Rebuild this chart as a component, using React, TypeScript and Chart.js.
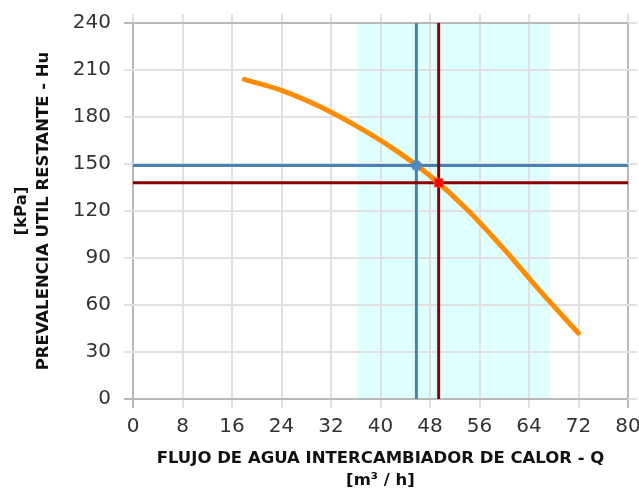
import React, { useEffect, useRef } from "react";
import { Chart, registerables } from "chart.js";

Chart.register(...registerables);

// ---- axis ranges / ticks ----
const X_MIN = 0;
const X_MAX = 80;
const X_STEP = 8;
const Y_MIN = 0;
const Y_MAX = 240;
const Y_STEP = 30;

// ---- pump curve (Q [m3/h], Hu [kPa]) ----
const CURVE_Q = [18, 24, 30, 36, 42, 48, 54, 60, 66, 72];
const CURVE_H = [204, 197, 187, 174.5, 160, 142.5, 121, 95.5, 68, 42];

// ---- operating points ----
const BLUE_Q = 45.8;
const BLUE_H = 149;
const RED_Q = 49.4;
const RED_H = 138;

// ---- recommended flow range ----
const RANGE_Q = [36.3, 67.4];

// ---- titles ----
const X_TITLE = ["FLUJO DE AGUA INTERCAMBIADOR DE CALOR - Q", "[m³ / h]"];
const Y_TITLE = ["[kPa]", "PREVALENCIA UTIL RESTANTE - Hu"];

const FONT = "'DejaVu Sans', Verdana, sans-serif";
const GRID_LIGHT = "#e1e1e1";
const GRID_DARK = "#b9b9b9";

const bandPlugin = {
  id: "flowBand",
  beforeDraw(chart: any) {
    const { ctx, chartArea, scales } = chart;
    const x = scales.x;
    const l = x.getPixelForValue(RANGE_Q[0]);
    const r = x.getPixelForValue(RANGE_Q[1]);
    ctx.save();
    ctx.fillStyle = "#e0ffff";
    ctx.fillRect(l, chartArea.top, r - l, chartArea.bottom - chartArea.top);
    ctx.restore();
  },
};

const edgeColor = (edges: number[]) => (c: any) =>
  c.tick && edges.includes(c.tick.value) ? GRID_DARK : GRID_LIGHT;

const noPadH = (size: number) => (s: any) => {
  s.height = size;
  s.paddingLeft = 0;
  s.paddingRight = 0;
};
const noPadV = (size: number) => (s: any) => {
  s.width = size;
  s.paddingTop = 0;
  s.paddingBottom = 0;
};

export default function App() {
  const ref = useRef<HTMLCanvasElement | null>(null);

  useEffect(() => {
    if (!ref.current) return;
    const curve = CURVE_Q.map((q, i) => ({ x: q, y: CURVE_H[i] }));
    const chart = new Chart(ref.current, {
      type: "line",
      data: {
        datasets: [
          {
            label: "red point",
            data: [{ x: RED_Q, y: RED_H }],
            showLine: false,
            pointStyle: "rect",
            pointRadius: 6,
            pointBackgroundColor: "#ff0000",
            pointBorderColor: "rgba(255,80,80,0.35)",
            pointBorderWidth: 2,
          },
          {
            label: "blue point",
            data: [{ x: BLUE_Q, y: BLUE_H }],
            showLine: false,
            pointStyle: "circle",
            pointRadius: 5,
            pointBackgroundColor: "#5189c2",
            pointBorderColor: "rgba(70,130,180,0.35)",
            pointBorderWidth: 2,
          },
          {
            label: "curve",
            data: curve,
            borderColor: "#ff8c00",
            borderWidth: 5,
            pointRadius: 0,
            cubicInterpolationMode: "monotone",
            borderCapStyle: "round",
          },
          {
            label: "red v",
            data: [
              { x: RED_Q, y: Y_MIN },
              { x: RED_Q, y: Y_MAX },
            ],
            borderColor: "#8b0000",
            borderWidth: 3,
            pointRadius: 0,
          },
          {
            label: "red h",
            data: [
              { x: X_MIN, y: RED_H },
              { x: X_MAX, y: RED_H },
            ],
            borderColor: "#8b0000",
            borderWidth: 3,
            pointRadius: 0,
          },
          {
            label: "blue v",
            data: [
              { x: BLUE_Q, y: Y_MIN },
              { x: BLUE_Q, y: Y_MAX },
            ],
            borderColor: "#4682b4",
            borderWidth: 3,
            pointRadius: 0,
          },
          {
            label: "blue h",
            data: [
              { x: X_MIN, y: BLUE_H },
              { x: X_MAX, y: BLUE_H },
            ],
            borderColor: "#4682b4",
            borderWidth: 3,
            pointRadius: 0,
          },
        ],
      },
      options: {
        responsive: false,
        animation: false,
        layout: { padding: 0 },
        plugins: {
          legend: { display: false },
          tooltip: { enabled: false },
        },
        scales: {
          x: {
            type: "linear",
            position: "bottom",
            min: X_MIN,
            max: X_MAX,
            ticks: {
              stepSize: X_STEP,
              padding: 7,
              color: "#333",
              font: { family: FONT, size: 20 },
              maxRotation: 0,
            },
            grid: { color: edgeColor([X_MIN, X_MAX]), lineWidth: 2, tickLength: 9 },
            border: { display: false },
            title: {
              display: true,
              text: X_TITLE,
              color: "#111",
              font: { family: FONT, size: 16.5, weight: "bold", lineHeight: "22px" },
              padding: { top: 0, bottom: -2.5 },
            },
            afterFit: noPadH(90),
          },
          x2: {
            type: "linear",
            position: "top",
            min: X_MIN,
            max: X_MAX,
            ticks: { stepSize: X_STEP, display: false },
            grid: { color: GRID_LIGHT, lineWidth: 2, tickLength: 9, drawOnChartArea: false },
            border: { display: false },
            afterFit: noPadH(23),
          },
          y: {
            type: "linear",
            position: "left",
            min: Y_MIN,
            max: Y_MAX,
            ticks: {
              stepSize: Y_STEP,
              padding: 13,
              color: "#333",
              font: { family: FONT, size: 20 },
            },
            grid: { color: edgeColor([Y_MIN, Y_MAX]), lineWidth: 2, tickLength: 9 },
            border: { display: false },
            title: {
              display: true,
              text: Y_TITLE,
              color: "#111",
              font: { family: FONT, size: 16.5, weight: "bold", lineHeight: "22px" },
              padding: { top: 11, bottom: 0 },
            },
            afterFit: noPadV(133),
          },
          y2: {
            type: "linear",
            position: "right",
            min: Y_MIN,
            max: Y_MAX,
            ticks: { stepSize: Y_STEP, display: false },
            grid: { color: GRID_LIGHT, lineWidth: 2, tickLength: 9, drawOnChartArea: false },
            border: { display: false },
            afterFit: noPadV(11),
          },
        },
      },
      plugins: [bandPlugin],
    });
    return () => chart.destroy();
  }, []);

  return (
    <div style={{ position: "fixed", left: 0, top: 0, width: 639, height: 489, background: "#fff" }}>
      <canvas ref={ref} width={639} height={489} style={{ display: "block" }} />
    </div>
  );
}
